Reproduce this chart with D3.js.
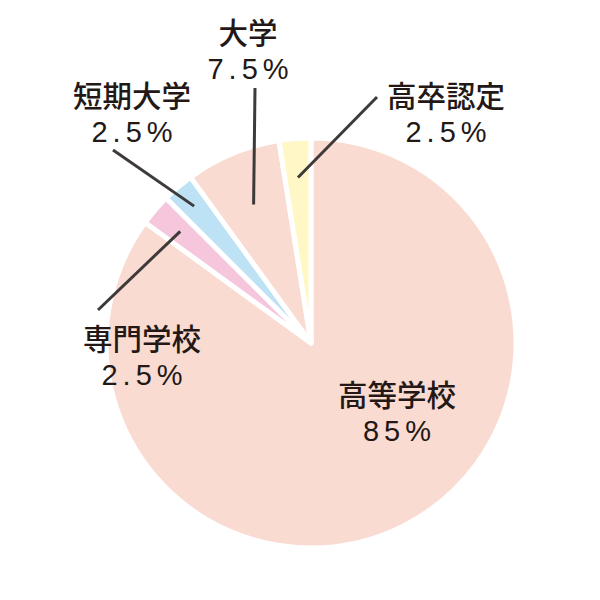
<!DOCTYPE html>
<html>
<head>
<meta charset="utf-8">
<script src="https://cdn.jsdelivr.net/npm/d3@7"></script>
<style>
  body { margin: 0; background: #fff; }
</style>
</head>
<body>
<div id="chart"></div>
<script>
// data
const schools = ["高等学校", "専門学校", "短期大学", "大学", "高卒認定"];
const shares = [85, 2.5, 2.5, 7.5, 2.5];
const shareLabels = ["85%", "2.5%", "2.5%", "7.5%", "2.5%"];
const colors = ["#f9dbd1", "#f5c6dc", "#bde2f5", "#f9dbd1", "#fff8c6"];

// label layout relative to the pie centre (text spot, leader end, leader start radius)
const labelSpots = [
  { tx: 86, ty: 63 },
  { tx: -169, ty: 7, lx: -213, ly: -33, r0: 172 },
  { tx: -179, ty: -236, lx: -198, ly: -193, r0: 180 },
  { tx: -63, ty: -299, lx: -56, ly: -255, r0: 150 },
  { tx: 135, ty: -236, lx: 66, ly: -246, r0: 166 }
];

const w = 600, h = 600;
const cx = 311, cy = 343, radius = 205;

const svg = d3.select("#chart")
  .append("svg")
  .attr("width", w)
  .attr("height", h);

const g = svg.append("g")
  .attr("transform", `translate(${cx},${cy})`);

const pie = d3.pie().sort(null).value(d => d);
const arcs = pie(shares);

const arc = d3.arc().innerRadius(0).outerRadius(radius);

g.selectAll("path.slice")
  .data(arcs)
  .enter()
  .append("path")
  .attr("class", "slice")
  .attr("d", arc)
  .attr("fill", (d, i) => colors[i])
  .attr("stroke", "#fff")
  .attr("stroke-width", 5)
  .attr("stroke-linejoin", "round");

// leader lines
arcs.forEach((d, i) => {
  const s = labelSpots[i];
  if (s.lx === undefined) return;
  const p = d3.arc().innerRadius(s.r0).outerRadius(s.r0).centroid(d);
  g.append("line")
    .attr("x1", p[0]).attr("y1", p[1])
    .attr("x2", s.lx).attr("y2", s.ly)
    .attr("stroke", "#3e3a39")
    .attr("stroke-width", 3);
});

const labels = g.selectAll("g.label")
  .data(arcs)
  .enter()
  .append("g")
  .attr("class", "label")
  .attr("transform", (d, i) => `translate(${labelSpots[i].tx},${labelSpots[i].ty})`);

labels.append("text")
  .attr("text-anchor", "middle")
  .attr("font-family", "'Noto Sans CJK JP', sans-serif")
  .attr("font-weight", 500)
  .attr("font-size", 29.5)
  .attr("fill", "#231815")
  .text((d, i) => schools[i]);

labels.append("text")
  .attr("text-anchor", "middle")
  .attr("y", 35)
  .attr("dx", 2.5)
  .attr("font-family", "'Liberation Sans', Arial, sans-serif")
  .attr("font-size", 29)
  .attr("letter-spacing", 5)
  .attr("fill", "#231815")
  .text((d, i) => shareLabels[i]);
</script>
</body>
</html>
